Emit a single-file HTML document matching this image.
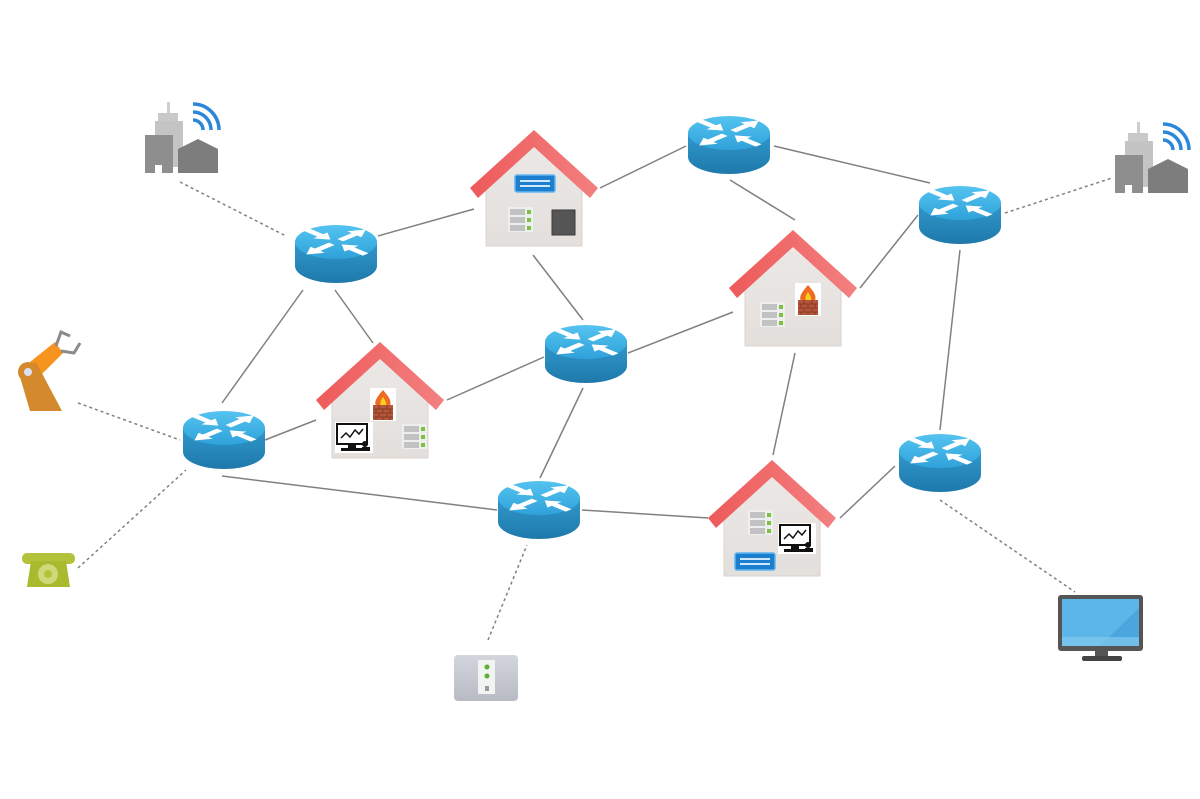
<!DOCTYPE html>
<html><head><meta charset="utf-8"><style>
html,body{margin:0;padding:0;background:#fff;}
svg{display:block;}
</style></head><body>
<svg width="1200" height="799" viewBox="0 0 1200 799" xmlns="http://www.w3.org/2000/svg">
<defs>
  <linearGradient id="rtop" x1="0" y1="0" x2="0" y2="1">
    <stop offset="0" stop-color="#55c4f0"/><stop offset="1" stop-color="#2fa2da"/>
  </linearGradient>
  <linearGradient id="rside" x1="0" y1="0" x2="0" y2="1">
    <stop offset="0" stop-color="#3098cc"/><stop offset="1" stop-color="#1f79ab"/>
  </linearGradient>
  <linearGradient id="roof" x1="0" y1="0" x2="1" y2="0">
    <stop offset="0" stop-color="#ee5a5a"/><stop offset="1" stop-color="#f38080"/>
  </linearGradient>
  <linearGradient id="hbody" x1="0" y1="0" x2="0" y2="1">
    <stop offset="0" stop-color="#ece8e6"/><stop offset="1" stop-color="#e3dfdc"/>
  </linearGradient>
  <linearGradient id="sw" x1="0" y1="0" x2="0" y2="1">
    <stop offset="0" stop-color="#d4d6de"/><stop offset="1" stop-color="#b8bac4"/>
  </linearGradient>
  <g id="router">
    <path d="M-41,0 L-41,24 A41,17 0 0 0 41,24 L41,0 Z" fill="url(#rside)"/>
    <ellipse cx="0" cy="0" rx="41" ry="17" fill="url(#rtop)"/>
    <g transform="scale(1,0.42)" fill="#fff">
      <g transform="rotate(-45)"><polygon points="6,-4 26,-4 26,-10 42,0 26,10 26,4 6,4"/></g>
      <g transform="rotate(135)"><polygon points="6,-4 26,-4 26,-10 42,0 26,10 26,4 6,4"/></g>
      <g transform="rotate(-135)"><polygon points="8,0 22,-10 22,-4 42,-4 42,4 22,4 22,10"/></g>
      <g transform="rotate(45)"><polygon points="8,0 22,-10 22,-4 42,-4 42,4 22,4 22,10"/></g>
    </g>
  </g>
  <g id="house">
    <polygon points="-48,116 -48,58 0,14 48,58 48,116" fill="url(#hbody)" stroke="#d8d3cf" stroke-width="1"/>
    <polygon points="0,0 64,58 56,68 0,17 -56,68 -64,58" fill="url(#roof)"/>
  </g>
  <g id="server">
    <rect x="0" y="0" width="25" height="25" fill="#eeeeee"/>
    <rect x="2" y="2" width="15" height="6" fill="#c2c2c2"/>
    <rect x="2" y="10" width="15" height="6" fill="#c2c2c2"/>
    <rect x="2" y="18" width="15" height="6" fill="#c2c2c2"/>
    <rect x="19" y="3" width="4" height="4" fill="#7cc242"/>
    <rect x="19" y="11" width="4" height="4" fill="#7cc242"/>
    <rect x="19" y="19" width="4" height="4" fill="#7cc242"/>
  </g>
  <g id="firewall">
    <rect x="0" y="0" width="26" height="33" fill="#fff"/>
    <path d="M13,2 C6,10 4,14 6,18 L20,18 C22,12 18,8 13,2 Z" fill="#ef6a22"/>
    <path d="M13,9 C10,13 10,16 11,18 L16,18 C17,15 15,12 13,9 Z" fill="#f5d020"/>
    <rect x="3" y="17" width="20" height="15" fill="#b5563a"/>
    <path d="M3,21 H23 M3,25 H23 M3,29 H23 M9,17 V21 M17,17 V21 M6,21 V25 M13,21 V25 M20,21 V25 M9,25 V29 M17,25 V29 M6,29 V32 M13,29 V32 M20,29 V32" stroke="#7a3522" stroke-width="0.8"/>
  </g>
  <g id="mon">
    <rect x="0" y="0" width="38" height="31" fill="#fff"/>
    <rect x="2" y="2" width="30" height="20" fill="#fff" stroke="#111" stroke-width="2"/>
    <polyline points="6,16 11,11 15,15 20,8 24,12 28,7" fill="none" stroke="#111" stroke-width="1.5"/>
    <rect x="13" y="22" width="8" height="4" fill="#111"/>
    <rect x="6" y="26" width="22" height="3" fill="#111"/>
    <circle cx="30" cy="22" r="3" fill="#111"/>
    <rect x="27" y="25" width="8" height="4" fill="#111"/>
  </g>
  <g id="bsw">
    <rect x="0" y="0" width="40" height="17" rx="2" fill="#1b7ecf" stroke="#62b5f0" stroke-width="1.5"/>
    <rect x="5" y="5" width="30" height="2" fill="#cfe8fb"/>
    <rect x="5" y="10" width="30" height="2" fill="#cfe8fb"/>
  </g>
  <g id="bldg">
    <rect x="22" y="-71" width="3" height="12" fill="#cfcfcf"/>
    <rect x="13" y="-60" width="20" height="10" fill="#c9c9c9"/>
    <rect x="10" y="-52" width="28" height="46" fill="#c4c4c4"/>
    <rect x="0" y="-38" width="28" height="38" fill="#8e8e8e"/>
    <rect x="10" y="-8" width="7" height="8" fill="#fff"/>
    <polygon points="33,0 33,-24 53,-34 73,-24 73,0" fill="#7d7d7d"/>
    <g fill="none" stroke="#2b87d9" stroke-width="3.5">
      <path d="M48,-53 A10,10 0 0 1 58,-43"/>
      <path d="M48,-61 A18,18 0 0 1 66,-43"/>
      <path d="M48,-69 A26,26 0 0 1 74,-43"/>
    </g>
  </g>
</defs>

<!-- solid links -->
<g stroke="#808080" stroke-width="1.5" fill="none">
  <line x1="378" y1="236" x2="474" y2="209"/>
  <line x1="600" y1="188" x2="686" y2="146"/>
  <line x1="774" y1="146" x2="930" y2="183"/>
  <line x1="730" y1="180" x2="795" y2="220"/>
  <line x1="918" y1="215" x2="860" y2="288"/>
  <line x1="960" y1="250" x2="940" y2="430"/>
  <line x1="895" y1="466" x2="840" y2="518"/>
  <line x1="795" y1="353" x2="773" y2="455"/>
  <line x1="582" y1="510" x2="708" y2="518"/>
  <line x1="222" y1="476" x2="497" y2="510"/>
  <line x1="583" y1="388" x2="540" y2="478"/>
  <line x1="628" y1="353" x2="733" y2="312"/>
  <line x1="533" y1="255" x2="583" y2="320"/>
  <line x1="544" y1="357" x2="447" y2="400"/>
  <line x1="335" y1="290" x2="373" y2="343"/>
  <line x1="303" y1="290" x2="222" y2="403"/>
  <line x1="265" y1="440" x2="316" y2="420"/>
</g>
<!-- dashed links -->
<g stroke="#808080" stroke-width="1.5" stroke-dasharray="3,3" fill="none">
  <line x1="180" y1="182" x2="286" y2="236"/>
  <line x1="1005" y1="213" x2="1112" y2="178"/>
  <line x1="78" y1="403" x2="180" y2="440"/>
  <line x1="78" y1="568" x2="186" y2="470"/>
  <line x1="488" y1="640" x2="527" y2="545"/>
  <line x1="940" y1="500" x2="1075" y2="592"/>
</g>

<!-- routers -->
<use href="#router" x="336" y="242"/>
<use href="#router" x="729" y="133"/>
<use href="#router" x="960" y="203"/>
<use href="#router" x="586" y="342"/>
<use href="#router" x="224" y="428"/>
<use href="#router" x="539" y="498"/>
<use href="#router" x="940" y="451"/>

<!-- houses -->
<g transform="translate(534,130)">
  <use href="#house"/>
  <use href="#bsw" x="-19" y="45"/>
  <use href="#server" x="-26" y="77"/>
  <rect x="18" y="80" width="23" height="25" fill="#555" stroke="#3a3a3a" stroke-width="1"/>
</g>
<g transform="translate(380,342)">
  <use href="#house"/>
  <use href="#firewall" x="-10" y="46"/>
  <use href="#mon" x="-45" y="80"/>
  <use href="#server" x="22" y="82"/>
</g>
<g transform="translate(793,230)">
  <use href="#house"/>
  <use href="#firewall" x="2" y="53"/>
  <use href="#server" x="-33" y="72"/>
</g>
<g transform="translate(772,460)">
  <use href="#house"/>
  <use href="#server" x="-24" y="50"/>
  <use href="#mon" x="6" y="63"/>
  <use href="#bsw" x="-37" y="93"/>
</g>

<!-- buildings -->
<use href="#bldg" x="145" y="173"/>
<use href="#bldg" x="1115" y="193"/>

<!-- robot arm -->
<g>
  <polygon points="30,362 55,342 63,353 40,376" fill="#f7941d"/>
  <polygon points="18,370 36,362 62,411 30,411" fill="#d4892c"/>
  <circle cx="28" cy="372" r="10" fill="#d4892c"/>
  <circle cx="28" cy="372" r="4" fill="#dde0f2"/>
  <path d="M56,346 L61,332 L70,336 M61,351 L74,353 L80,343" fill="none" stroke="#8a8a8a" stroke-width="3"/>
</g>

<!-- phone -->
<g>
  <rect x="22" y="553" width="53" height="11" rx="5" fill="#b3c238"/>
  <polygon points="31,561 66,561 70,587 27,587" fill="#a9ba2f"/>
  <circle cx="48" cy="574" r="10" fill="#cfd97a"/>
  <circle cx="48" cy="574" r="4" fill="#b3c238"/>
</g>

<!-- switch box -->
<g>
  <rect x="454" y="655" width="64" height="46" rx="4" fill="url(#sw)"/>
  <rect x="478" y="660" width="17" height="34" fill="#f2f3f3"/>
  <circle cx="487" cy="667" r="2.5" fill="#5fb030"/>
  <circle cx="487" cy="676" r="2.5" fill="#5fb030"/>
  <rect x="485" y="686" width="4" height="5" fill="#999"/>
</g>

<!-- monitor -->
<g>
  <rect x="1058" y="595" width="85" height="56" rx="3" fill="#555"/>
  <rect x="1062" y="599" width="77" height="47" fill="#5cb6e8"/>
  <polygon points="1100,646 1139,608 1139,646" fill="#4aa6dc"/>
  <rect x="1062" y="637" width="77" height="9" fill="#7fcaf0" opacity="0.7"/>
  <rect x="1095" y="651" width="13" height="6" fill="#555"/>
  <rect x="1082" y="656" width="40" height="5" rx="2" fill="#444"/>
</g>
</svg>
</body></html>
